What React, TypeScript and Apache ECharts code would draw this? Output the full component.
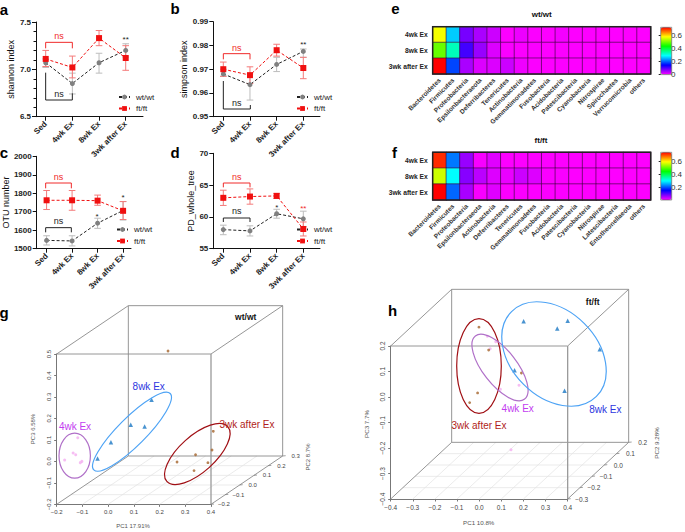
import React, { useEffect, useRef } from "react";
import * as echarts from "echarts";

const FONT = '"Liberation Sans", Arial, sans-serif';
const timepoints = ["Sed", "4wk Ex", "8wk Ex", "3wk after Ex"];
const rows = ["4wk Ex", "8wk Ex", "3wk after Ex"];

// line panels: mean, low, high
const aWt = [7.07, 6.85, 7.07, 7.2];
const aWtLow = [7.02, 6.74, 6.96, 7.13];
const aWtHigh = [7.11, 6.96, 7.17, 7.27];
const aFt = [7.11, 7.02, 7.33, 7.12];
const aFtLow = [7.03, 6.91, 7.25, 6.99];
const aFtHigh = [7.2, 7.14, 7.41, 7.25];

const bWt = [0.968, 0.9635, 0.972, 0.9775];
const bWtLow = [0.967, 0.957, 0.969, 0.975];
const bWtHigh = [0.97, 0.968, 0.975, 0.9785];
const bFt = [0.97, 0.9675, 0.978, 0.9705];
const bFtLow = [0.967, 0.964, 0.9755, 0.966];
const bFtHigh = [0.973, 0.971, 0.9805, 0.975];

const cWt = [1545, 1542, 1638, 1707];
const cWtLow = [1520, 1515, 1610, 1655];
const cWtHigh = [1570, 1570, 1665, 1755];
const cFt = [1762, 1762, 1760, 1705];
const cFtLow = [1712, 1708, 1735, 1658];
const cFtHigh = [1815, 1815, 1790, 1755];

const dWt = [58, 57.8, 60.5, 59.7];
const dWtLow = [57.2, 57, 59.8, 58.5];
const dWtHigh = [58.7, 58.6, 61.2, 60.9];
const dFt = [63, 63.2, 63.3, 58.1];
const dFtLow = [61.8, 62, 62.9, 57];
const dFtHigh = [64.2, 64.4, 63.7, 59.2];

// heat maps
const eTaxa = ["Bacteroidetes", "Firmicutes", "Proteobacteria", "Epsilonbacteraeota", "Deferribacteres", "Tenericutes", "Actinobacteria", "Gemmatimonadetes", "Fusobacteria", "Acidobacteria", "Patescibacteria", "Cyanobacteria", "Nitrospirae", "Spirochaetes", "Verrucomicrobia", "others"];
const fTaxa = ["Bacteroidetes", "Firmicutes", "Proteobacteria", "Epsilonbacteraeota", "Actinobacteria", "Deferribacteres", "Tenericutes", "Gemmatimonadetes", "Fusobacteria", "Acidobacteria", "Patescibacteria", "Cyanobacteria", "Nitrospirae", "Latescibacteria", "Entotheonellaeota", "others"];
const eRow1 = [0.57, 0.259, 0.077, 0.048, 0.029, 0.001, 0.01, 0.002, 0.001, 0.006, 0.001, 0.001, 0.001, 0.001, 0.001, 0.001];
const eRow2 = [0.49, 0.327, 0.107, 0.058, 0.02, 0.002, 0.002, 0.002, 0.001, 0.002, 0.001, 0.001, 0.001, 0.001, 0.001, 0.001];
const eRow3 = [0.72, 0.183, 0.048, 0.02, 0.02, 0.029, 0.009, 0.002, 0.001, 0.002, 0.001, 0.001, 0.001, 0.001, 0.001, 0.001];
const fRow1 = [0.72, 0.219, 0.06, 0.004, 0.018, 0.002, 0.002, 0.002, 0.002, 0.002, 0.001, 0.001, 0.001, 0.001, 0.001, 0.001];
const fRow2 = [0.566, 0.298, 0.07, 0.04, 0.02, 0.012, 0.03, 0.02, 0.003, 0.003, 0.001, 0.001, 0.001, 0.001, 0.001, 0.001];
const fRow3 = [0.745, 0.209, 0.05, 0.004, 0.018, 0.002, 0.002, 0.002, 0.002, 0.002, 0.001, 0.001, 0.001, 0.001, 0.001, 0.001];

// PCoA points, read on the front face scale of each box
const g4wk = [[-0.118, 0.11], [-0.136, 0.039], [-0.126, 0.031], [-0.169, 0.006], [-0.102, 0.0], [-0.108, -0.006]];
const g8wk = [[-0.041, 0.013], [0.011, 0.089], [0.088, 0.171], [0.142, 0.162], [0.169, 0.287]];
const g3wk = [[0.233, 0.514], [0.409, 0.14], [0.404, 0.053], [0.34, 0.031], [0.268, -0.003], [0.388, -0.006], [0.334, -0.043]];
const h4wk = [[0.037, 0.238], [0.075, 0.217], [0.05, 0.189], [0.096, 0.03], [0.18, 0.046], [0.144, -0.207]];
const h8wk = [[0.201, 0.297], [0.353, 0.269], [0.4, 0.299], [0.545, 0.187], [0.16, 0.105], [0.386, 0.025]];
const h3wk = [[-0.001, 0.274], [0.043, 0.184], [0.191, 0.094], [-0.007, 0.016], [-0.043, -0.022]];
const gDepthTicks = ["−0.2", "−0.1", "0.0", "0.1", "0.2", "0.3"];
const hDepthTicks = ["−0.3", "−0.2", "−0.1", "0.0", "0.1", "0.2"];

const rainbow = ["#ff00ff", "#0000ff", "#00ffff", "#00ff00", "#ffff00", "#ff0000"];

function App() {
  const ref = useRef<HTMLDivElement>(null);
  useEffect(() => {
    const chart = echarts.init(ref.current!, null, { renderer: "svg" });
    const grid: any[] = [];
    const xAxis: any[] = [];
    const yAxis: any[] = [];
    const series: any[] = [];
    const legend: any[] = [];
    const visualMap: any[] = [];
    const graphic: any[] = [];

    const txt = (text: string, x: number, y: number, size: number, fill: string, opts: any = {}) =>
      graphic.push({
        type: "text", x, y, rotation: opts.rotation || 0, silent: true, z: 20,
        style: { text, fill, font: `${opts.bold ? "bold " : ""}${size}px ${FONT}`, textAlign: opts.align || "center", textVerticalAlign: "middle" },
      });
    const seg = (x1: number, y1: number, x2: number, y2: number, stroke: string, lineWidth = 0.8, z = 1) =>
      graphic.push({ type: "line", silent: true, z, shape: { x1, y1, x2, y2 }, style: { stroke, lineWidth } });

    // ---------- line panels
    const errBar = (g: number, mean: number[], low: number[], high: number[], color: string) =>
      series.push({
        type: "custom", xAxisIndex: g, yAxisIndex: g, z: 2, silent: true, clip: false,
        data: mean.map((_, i) => [i, low[i], high[i]]),
        encode: { x: 0, y: [1, 2] },
        renderItem: (_: any, api: any) => {
          const a = api.coord([api.value(0), api.value(1)]);
          const b = api.coord([api.value(0), api.value(2)]);
          const s = { stroke: color, lineWidth: 1, fill: "none" };
          const w = 3.3;
          return {
            type: "group",
            children: [
              { type: "line", shape: { x1: a[0], y1: a[1], x2: b[0], y2: b[1] }, style: s },
              { type: "line", shape: { x1: a[0] - w, y1: a[1], x2: a[0] + w, y2: a[1] }, style: s },
              { type: "line", shape: { x1: b[0] - w, y1: b[1], x2: b[0] + w, y2: b[1] }, style: s },
            ],
          };
        },
      });

    const linePanel = (p: any) => {
      const g = grid.length;
      const span = p.right - p.left;
      const t0 = p.tick0;
      grid.push({ left: p.left, top: p.top, width: span, height: p.bottom - p.top });
      xAxis.push({
        type: "value", gridIndex: g, min: -(t0 - p.left) / p.step, max: (p.right - t0) / p.step, splitLine: { show: false },
        axisLine: { lineStyle: { color: "#111", width: 1 }, onZero: false },
        axisTick: { length: 4, customValues: [0, 1, 2, 3], lineStyle: { color: "#111" } },
        axisLabel: { customValues: [0, 1, 2, 3], rotate: 45, formatter: (v: number) => timepoints[Math.round(v)] ?? "", fontFamily: FONT, fontSize: 8, fontWeight: "bold", color: "#222", margin: 6, hideOverlap: false },
      });
      yAxis.push({
        type: "value", gridIndex: g, min: p.min, max: p.max, interval: p.interval, splitLine: { show: false },
        name: p.name, nameLocation: "middle", nameGap: p.nameGap, nameTextStyle: { fontFamily: FONT, fontSize: 9, color: "#111" },
        axisLine: { show: true, onZero: false, lineStyle: { color: "#111", width: 1 } },
        axisTick: { show: true, length: 4, lineStyle: { color: "#111" } },
        minorTick: { show: !!p.minor, splitNumber: 5, length: 2.5, lineStyle: { color: "#111" } },
        axisLabel: { fontFamily: FONT, fontSize: 8, fontWeight: "bold", color: "#222", margin: 5, formatter: (v: number) => v.toFixed(p.digits) },
      });
      errBar(g, p.wt, p.wtLow, p.wtHigh, "#bdbdbd");
      errBar(g, p.ft, p.ftLow, p.ftHigh, "#f47a7a");
      series.push({
        type: "line", name: "wt/wt", xAxisIndex: g, yAxisIndex: g, z: 3, symbol: "circle", symbolSize: 5,
        data: p.wt.map((v: number, i: number) => [i, v]), itemStyle: { color: "#808080" }, lineStyle: { color: "#222", type: [3, 2], width: 1 },
      });
      series.push({
        type: "line", name: "ft/ft", xAxisIndex: g, yAxisIndex: g, z: 4, symbol: "rect", symbolSize: 6,
        data: p.ft.map((v: number, i: number) => [i, v]), itemStyle: { color: "#f01010" }, lineStyle: { color: "#f01010", type: [3, 2], width: 1 },
      });
      legend.push({
        left: p.legendX, top: p.legendY, orient: "vertical", itemWidth: 11, itemHeight: 6, itemGap: 3.5, padding: 0, selectedMode: false,
        data: ["wt/wt", "ft/ft"], textStyle: { fontFamily: FONT, fontSize: 8, color: "#222", padding: [0, 0, 0, 1] },
      });
    };
    linePanel({ name: "shannon index", nameGap: 18, minor: true, left: 36, right: 143, top: 22, bottom: 116.7, tick0: 45.7, step: 26.67, min: 6.5, max: 7.5, interval: 0.5, digits: 1, wt: aWt, wtLow: aWtLow, wtHigh: aWtHigh, ft: aFt, ftLow: aFtLow, ftHigh: aFtHigh, legendX: 118, legendY: 93 });
    linePanel({ name: "simpson index", nameGap: 25, left: 213.3, right: 320, top: 21.7, bottom: 116.7, tick0: 223.3, step: 26.67, min: 0.95, max: 0.99, interval: 0.01, digits: 2, wt: bWt, wtLow: bWtLow, wtHigh: bWtHigh, ft: bFt, ftLow: bFtLow, ftHigh: bFtHigh, legendX: 296, legendY: 93 });
    linePanel({ name: "OTU number", nameGap: 22, left: 35.7, right: 131, top: 156.3, bottom: 248.7, tick0: 45.7, step: 25.77, min: 1500, max: 2000, interval: 100, digits: 0, wt: cWt, wtLow: cWtLow, wtHigh: cWtHigh, ft: cFt, ftLow: cFtLow, ftHigh: cFtHigh, legendX: 116, legendY: 225.5 });
    linePanel({ name: "PD_whole_tree", nameGap: 16, left: 213.3, right: 320, top: 153.3, bottom: 248.7, tick0: 223.3, step: 26.67, min: 55, max: 70, interval: 5, digits: 0, wt: dWt, wtLow: dWtLow, wtHigh: dWtHigh, ft: dFt, ftLow: dFtLow, ftHigh: dFtHigh, legendX: 296, legendY: 225.5 });

    // brackets (coordinates read on the 3x crops)
    const bracket = (ox: number, oy: number, pts: number[][], color: string) =>
      graphic.push({ type: "polyline", silent: true, z: 5, shape: { points: pts.map(([x, y]) => [ox + x / 3, oy + y / 3]) }, style: { stroke: color, lineWidth: 1, fill: "none" } });
    const red = "#f02a2a";
    const black = "#222";
    bracket(0, 0, [[137, 145], [137, 127], [217, 127], [217, 145]], red);
    bracket(0, 0, [[137, 218], [137, 300], [217, 300], [217, 280]], black);
    txt("ns", 59, 36, 9, red);
    txt("ns", 59, 94, 9, black);
    txt("**", 125.7, 39, 8, black);
    bracket(160, 0, [[190, 178], [190, 161], [270, 161], [270, 178]], red);
    bracket(160, 0, [[190, 243], [190, 327], [271, 327], [271, 315]], black);
    txt("ns", 236.7, 47.5, 9, red);
    txt("ns", 236.7, 102.5, 9, black);
    txt("**", 303.3, 44, 8, black);
    bracket(0, 140, [[137, 145], [137, 129], [214, 129], [214, 145]], red);
    bracket(0, 140, [[137, 277], [137, 263], [214, 263], [214, 277]], black);
    txt("ns", 58.5, 177, 9, red);
    txt("ns", 58.5, 221, 9, black);
    txt("*", 123, 197, 8, black);
    txt("*", 97, 216, 8, black);
    bracket(160, 140, [[190, 142], [190, 129], [270, 129], [270, 142]], red);
    bracket(160, 140, [[190, 246], [190, 234], [270, 234], [270, 246]], black);
    txt("ns", 236.7, 177, 9, red);
    txt("ns", 236.7, 211, 9, black);
    txt("*", 276.7, 207.5, 8, black);
    txt("**", 303.3, 208.5, 8, red);

    // ---------- heat maps
    const heat = (p: any) => {
      const g = grid.length;
      grid.push({ left: p.left, top: p.top, width: p.width, height: p.height });
      xAxis.push({
        type: "category", gridIndex: g, data: p.taxa, splitLine: { show: false },
        axisLine: { show: false }, axisTick: { show: false },
        axisLabel: { interval: 0, rotate: 45, fontFamily: FONT, fontSize: 6.5, fontWeight: "bold", color: "#333", margin: 5 },
      });
      yAxis.push({
        type: "category", gridIndex: g, data: rows, inverse: true,
        axisLine: { show: false }, axisTick: { show: false },
        axisLabel: { fontFamily: FONT, fontSize: 6.7, fontWeight: "bold", color: "#222", margin: 5 },
      });
      const si = series.length;
      const data: number[][] = [];
      p.values.forEach((r: number[], y: number) => r.forEach((v, x) => data.push([x, y, v])));
      series.push({ type: "heatmap", xAxisIndex: g, yAxisIndex: g, data, silent: true, itemStyle: { borderColor: "#3a003a", borderWidth: 0.6 } });
      graphic.push({ type: "rect", silent: true, z: 6, shape: { x: p.left, y: p.top, width: p.width, height: p.height }, style: { fill: "none", stroke: "#222", lineWidth: 1.5 } });
      visualMap.push({ type: "continuous", seriesIndex: si, min: 0, max: p.vmax, left: p.barX, top: p.top + p.barDy, itemWidth: 11, itemHeight: p.height, padding: 0, calculable: false, hoverLink: false, text: [], inRange: { color: rainbow } });
      const g2 = grid.length;
      grid.push({ left: p.barX, top: p.top + p.barDy, width: 11, height: p.height });
      xAxis.push({ type: "value", gridIndex: g2, min: 0, max: 1, show: false });
      yAxis.push({
        type: "value", gridIndex: g2, position: "right", min: 0, max: p.vmax, splitLine: { show: false },
        axisLine: { show: false },
        axisTick: { show: true, inside: true, length: 2, customValues: p.ticks, lineStyle: { color: "#222" } },
        axisLabel: { customValues: p.ticks, fontFamily: FONT, fontSize: 8, color: "#333", margin: 4, formatter: (v: number) => (v === 0 ? "0" : v.toFixed(1)) },
      });
      graphic.push({ type: "rect", silent: true, z: 6, shape: { x: p.barX, y: p.top + p.barDy, width: 11, height: p.height }, style: { fill: "none", stroke: "#555", lineWidth: 0.6 } });
    };
    heat({ left: 432.7, top: 26.7, width: 218, height: 47.3, taxa: eTaxa, values: [eRow1, eRow2, eRow3], vmax: 0.72, ticks: [0, 0.2, 0.4, 0.6], barX: 660.7, barDy: 0.6 });
    heat({ left: 432.7, top: 152.3, width: 218, height: 47.7, taxa: fTaxa, values: [fRow1, fRow2, fRow3], vmax: 0.745, ticks: [0.2, 0.4, 0.6], barX: 660.7, barDy: 0 });
    txt("wt/wt", 541.7, 14.3, 8, "#111", { bold: true });
    txt("ft/ft", 541, 140, 8, "#111", { bold: true });

    // ---------- 3D boxes
    const box3d = (p: any) => {
      const Z = ([x, y]: number[]) => [p.ox + x / 3, p.oy + y / 3];
      const [fl, fr, ft] = [p.fl, p.fr, p.ftop];
      const d = p.depth;
      const edge = (a: number[], b: number[], c = "#8a8a8a", w = 0.9) => {
        const A = Z(a), B = Z(b);
        seg(A[0], A[1], B[0], B[1], c, w);
      };
      const add = (a: number[], b: number[]) => [a[0] + b[0], a[1] + b[1]];
      const flb = [fl, p.fb], frb = [fr, p.fb], flt = [fl, ft], frt = [fr, ft];
      // floor grid
      const nx = p.xTicks;
      for (let i = 1; i < nx; i++) {
        const a = [fl + ((fr - fl) * i) / nx, p.fb];
        edge(a, add(a, d), "#e2e2e2", 0.7);
      }
      const nd = p.depthLabels.length - 1;
      for (let i = 1; i < nd; i++) {
        const a = [fl + (d[0] * i) / nd, p.fb + (d[1] * i) / nd];
        edge(a, [a[0] + fr - fl, a[1]], "#e2e2e2", 0.7);
      }
      edge(add(flt, d), add(frt, d));
      edge(add(flb, d), add(frb, d));
      edge(add(flt, d), add(flb, d));
      edge(add(frt, d), add(frb, d));
      edge(flt, add(flt, d));
      edge(frt, add(frt, d));
      edge(flb, add(flb, d));
      edge(frb, add(frb, d));
      edge(flt, frt);
      edge(frt, frb, "#9a9a9a", 1.3);
      // depth axis ticks and labels
      p.depthLabels.forEach((t: string, i: number) => {
        const a = [fr + (d[0] * i) / nd, p.fb + (d[1] * i) / nd];
        const A = Z(a);
        seg(A[0], A[1], A[0] + 3, A[1] - 0.3, "#777", 0.7);
        txt(t, A[0] + p.depthDx, A[1], p.tickSize, "#444");
      });

      const g = grid.length;
      const L = Z(flt), R = Z(frb);
      grid.push({ left: L[0], top: L[1], width: R[0] - L[0], height: R[1] - L[1] });
      xAxis.push({
        type: "value", gridIndex: g, min: p.xMin, max: p.xMax, interval: 0.1, splitLine: { show: false },
        axisLine: { onZero: false, lineStyle: { color: "#777", width: 1 } }, axisTick: { length: 2.5, lineStyle: { color: "#777" } },
        axisLabel: { fontFamily: FONT, fontSize: p.tickSize, color: "#444", margin: 5, showMinLabel: true, showMaxLabel: true, hideOverlap: false, formatter: (v: number) => v.toFixed(1).replace("-", "−") },
      });
      yAxis.push({
        type: "value", gridIndex: g, min: p.yMin, max: p.yMax, interval: 0.1, splitLine: { show: false },
        axisLine: { show: true, onZero: false, lineStyle: { color: "#777", width: 1 } }, axisTick: { show: true, length: 2.5, lineStyle: { color: "#777" } },
        axisLabel: { rotate: 90, fontFamily: FONT, fontSize: p.tickSize, color: "#444", margin: 5, showMinLabel: true, showMaxLabel: true, hideOverlap: false, formatter: (v: number) => v.toFixed(1).replace("-", "−") },
      });
      const sc = (data: number[][], symbol: string, size: number, color: string) =>
        series.push({ type: "scatter", xAxisIndex: g, yAxisIndex: g, data, symbol, symbolSize: size, clip: false, silent: true, z: 8, itemStyle: { color } });
      sc(p.pink, "circle", 3, "#f4aef0");
      sc(p.blue, "triangle", 4.5, "#1b78c4");
      sc(p.brown, "circle", 2.8, "#a5642c");
    };
    const ell = (x: number, y: number, rx: number, ry: number, deg: number, stroke: string, lineWidth = 1.2) =>
      graphic.push({ type: "ellipse", silent: true, z: 9, x, y, rotation: (deg * Math.PI) / 180, shape: { cx: 0, cy: 0, rx, ry }, style: { fill: "none", stroke, lineWidth } });

    box3d({ ox: 0, oy: 290, fl: 170, fr: 633, fb: 643, ftop: 192, depth: [215, -145], xTicks: 6, xMin: -0.2, xMax: 0.4, yMin: -0.2, yMax: 0.5, tickSize: 6, depthDx: 13, depthLabels: gDepthTicks, pink: g4wk, blue: g8wk, brown: g3wk });
    ell(74.7, 455.7, 15.7, 22.5, 0, "#b070c8");
    ell(132, 431.7, 54, 14, 45, "#4da3f5");
    ell(197.3, 454, 41, 18, 42, "#a00f14");
    txt("PC1 17.91%", 133, 526, 6, "#555");
    txt("PC3 6.58%", 33, 429, 6, "#555", { rotation: Math.PI / 2 });
    txt("PC2 8.7%", 308, 457, 6, "#555", { rotation: Math.PI / 2 });
    txt("4wk Ex", 75, 426.7, 10, "#c23cf0");
    txt("8wk Ex", 148.7, 386.3, 10, "#2c36e0");
    txt("3wk after Ex", 247, 424.7, 10, "#b01c20");
    txt("wt/wt", 245.7, 317.3, 8.5, "#111", { bold: true });

    box3d({ ox: 340, oy: 280, fl: 152, fr: 683, fb: 657, ftop: 198, depth: [183, -170], xTicks: 8, xMin: -0.4, xMax: 0.4, yMin: -0.4, yMax: 0.2, tickSize: 6.5, depthDx: 14, depthLabels: hDepthTicks, pink: h4wk, blue: h8wk, brown: h3wk });
    ell(479, 366, 22.3, 47.3, 0, "#a00f14");
    ell(500, 367.5, 40, 17, -52, "#b070c8");
    ell(554, 354, 60, 43, -45, "#4da3f5");
    txt("PC1 10.8%", 478.7, 522, 6.2, "#555");
    txt("PC3 7.7%", 366, 424, 6.2, "#555", { rotation: Math.PI / 2 });
    txt("PC2 9.28%", 656, 443, 6.2, "#555", { rotation: Math.PI / 2 });
    txt("4wk Ex", 517.7, 408.3, 10, "#c23cf0");
    txt("8wk Ex", 605.3, 409.7, 10, "#2c36e0");
    txt("3wk after Ex", 479, 425.3, 10, "#b01c20");
    txt("ft/ft", 592.7, 301.7, 8.5, "#111", { bold: true });

    // panel letters
    const letters: [string, number, number][] = [["a", 4, 9], ["b", 175, 8], ["c", 4, 152], ["d", 175, 152], ["e", 395.5, 8], ["f", 394.5, 152], ["g", 4, 312], ["h", 392.5, 310]];
    letters.forEach(([t, x, y]) => txt(t, x, y, 15, "#000", { bold: true }));

    chart.setOption({ animation: false, backgroundColor: "#fff", grid, xAxis, yAxis, series, legend, visualMap, graphic: { elements: graphic } });
    return () => chart.dispose();
  }, []);
  return <div ref={ref} style={{ position: "fixed", left: 0, top: 0, width: 685, height: 532 }} />;
}

export default App;
